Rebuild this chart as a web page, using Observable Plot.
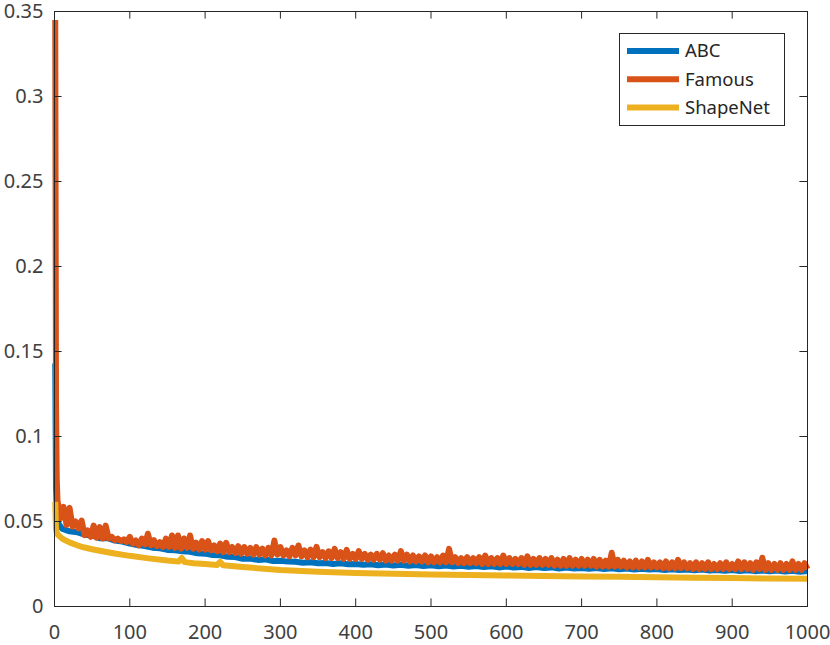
<!DOCTYPE html>
<html><head><meta charset="utf-8">
<script src="https://cdn.jsdelivr.net/npm/d3@7"></script>
<script src="https://cdn.jsdelivr.net/npm/@observablehq/plot@0.6"></script>
<style>body{margin:0;background:#fff}#chart{width:830px;height:645px}</style>
</head><body><div id="chart"></div>
<script>
const seriesNames = ["ABC", "Famous", "ShapeNet"];
const seriesColors = ["#0072BD", "#D95319", "#EDB120"];
const xTicks = [0, 100, 200, 300, 400, 500, 600, 700, 800, 900, 1000];
const yTicks = [0, 0.05, 0.1, 0.15, 0.2, 0.25, 0.3, 0.35];
const yTickLabels = ["0", "0.05", "0.1", "0.15", "0.2", "0.25", "0.3", "0.35"];

// ABC (blue)
const abcEarlyEpochs = [1, 2, 3, 5];
const abcEarlyLoss = [0.143, 0.07, 0.055, 0.049];
const abcLoss = [ // epochs 10..1000 step 10
  0.0458, 0.0442, 0.0437, 0.0422, 0.0418, 0.0402, 0.0403, 0.0388, 0.0382, 0.0370,
  0.0362, 0.0356, 0.0346, 0.0342, 0.0333, 0.0331, 0.0325, 0.0322, 0.0313, 0.0311,
  0.0303, 0.0301, 0.0293, 0.0291, 0.0281, 0.0282, 0.0274, 0.0277, 0.0268, 0.0269,
  0.0264, 0.0263, 0.0257, 0.0260, 0.0254, 0.0256, 0.0250, 0.0254, 0.0248, 0.0250,
  0.0245, 0.0249, 0.0243, 0.0247, 0.0241, 0.0246, 0.0240, 0.0244, 0.0238, 0.0242,
  0.0237, 0.0241, 0.0235, 0.0239, 0.0233, 0.0238, 0.0232, 0.0236, 0.0230, 0.0235,
  0.0229, 0.0233, 0.0227, 0.0232, 0.0226, 0.0230, 0.0224, 0.0229, 0.0223, 0.0227,
  0.0222, 0.0226, 0.0220, 0.0225, 0.0219, 0.0223, 0.0217, 0.0222, 0.0217, 0.0220,
  0.0215, 0.0219, 0.0214, 0.0218, 0.0213, 0.0217, 0.0211, 0.0215, 0.0210, 0.0214,
  0.0209, 0.0213, 0.0208, 0.0212, 0.0207, 0.0211, 0.0206, 0.0210, 0.0205, 0.0209
];

// Famous (orange)
const famousEarlyEpochs = [1, 2, 3];
const famousEarlyLoss = [0.345, 0.12, 0.075];
const famousLoss = [ // epochs 4..1000 step 4
  0.062, 0.052, 0.0586, 0.048, 0.058, 0.047, 0.050, 0.046, 0.0506, 0.042, 0.0447, 0.041, 0.0476, 0.0405, 0.0467, 0.040, 0.0476, 0.040, 0.041, 0.039, 0.040, 0.0385, 0.0395, 0.038, 0.041,
  0.037, 0.0388, 0.036, 0.040, 0.0365, 0.0428, 0.036, 0.039, 0.0355, 0.0379, 0.035, 0.040, 0.035, 0.0418, 0.0345, 0.0418, 0.034, 0.040, 0.0345, 0.0418, 0.034, 0.0375, 0.0335, 0.0385, 0.0335,
  0.0385, 0.033, 0.036, 0.0325, 0.037, 0.032, 0.0375, 0.032, 0.035, 0.0315, 0.0355, 0.031, 0.035, 0.031, 0.0345, 0.0305, 0.035, 0.0305, 0.034, 0.030, 0.0345, 0.030, 0.0388, 0.0305, 0.035,
  0.030, 0.033, 0.0295, 0.0345, 0.030, 0.0359, 0.0295, 0.033, 0.029, 0.0335, 0.029, 0.0351, 0.029, 0.032, 0.0285, 0.0325, 0.0285, 0.0339, 0.0285, 0.032, 0.028, 0.0333, 0.028, 0.031, 0.028,
  0.0326, 0.028, 0.031, 0.0275, 0.0305, 0.0275, 0.031, 0.0275, 0.0314, 0.027, 0.030, 0.027, 0.0305, 0.027, 0.0326, 0.027, 0.0305, 0.0265, 0.030, 0.0265, 0.0295, 0.0265, 0.030, 0.026, 0.0295,
  0.026, 0.029, 0.026, 0.030, 0.026, 0.0339, 0.026, 0.029, 0.0255, 0.0285, 0.0255, 0.029, 0.0255, 0.0285, 0.0255, 0.029, 0.025, 0.030, 0.025, 0.0285, 0.025, 0.0285, 0.025, 0.030, 0.025,
  0.0285, 0.025, 0.028, 0.025, 0.0285, 0.0245, 0.0295, 0.0245, 0.028, 0.0245, 0.0285, 0.0245, 0.028, 0.0245, 0.0285, 0.024, 0.0275, 0.024, 0.028, 0.024, 0.0285, 0.024, 0.0275, 0.024, 0.028,
  0.024, 0.0275, 0.024, 0.028, 0.0235, 0.0275, 0.0235, 0.027, 0.0235, 0.0316, 0.0235, 0.0275, 0.0235, 0.027, 0.023, 0.0265, 0.023, 0.027, 0.023, 0.0265, 0.023, 0.0275, 0.023, 0.026, 0.023,
  0.026, 0.0225, 0.0265, 0.0225, 0.026, 0.0225, 0.0275, 0.0225, 0.026, 0.0225, 0.0255, 0.022, 0.026, 0.022, 0.0255, 0.022, 0.026, 0.022, 0.025, 0.022, 0.0255, 0.022, 0.026, 0.022, 0.025,
  0.022, 0.0265, 0.022, 0.026, 0.022, 0.0255, 0.0215, 0.026, 0.022, 0.0287, 0.0215, 0.0255, 0.0215, 0.025, 0.0215, 0.0255, 0.0215, 0.025, 0.0215, 0.0265, 0.0215, 0.025, 0.0215, 0.0255, 0.022
];

// ShapeNet (yellow)
const shapeEpochs = [1, 2, 3, 5, 8, 10, 15, 20, 30, 40, 50, 60, 80, 100, 125, 150, 165, 169, 173, 185, 200, 216, 220, 224, 250, 300, 350, 400, 450, 500, 550, 600, 650, 700, 750, 800, 850, 900, 950, 1000];
const shapeLoss = [0.0615, 0.0455, 0.0435, 0.042, 0.0408, 0.040, 0.0388, 0.0377, 0.036, 0.0347, 0.0337, 0.0328, 0.0312, 0.0298, 0.0283, 0.0270, 0.0264, 0.0285, 0.0261, 0.0255, 0.0250, 0.0244, 0.0262, 0.0242, 0.0232, 0.0215, 0.0204, 0.0197, 0.0192, 0.0188, 0.0185, 0.0182, 0.0180, 0.0177, 0.0175, 0.0172, 0.0169, 0.0167, 0.0165, 0.0163];

const abcEpochs = abcEarlyEpochs.concat(d3.range(10, 1001, 10));
const abcAll = abcEarlyLoss.concat(abcLoss);
const famousEpochs = famousEarlyEpochs.concat(d3.range(4, 1001, 4));
const famousAll = famousEarlyLoss.concat(famousLoss);

const toRows = (ep, vals) => ep.map((e, i) => ({epoch: e, loss: vals[i]})).filter(d => d.loss != null);
const rows = [toRows(abcEpochs, abcAll), toRows(famousEpochs, famousAll), toRows(shapeEpochs, shapeLoss)];

const W = 830, H = 645, mL = 54, mR = 23, mT = 11, mB = 39;
const innerW = W - mL - mR, innerH = H - mT - mB;
const tickLen = 7.6;
const ink = "#262626";

const chart = Plot.plot({
  width: W, height: H,
  marginLeft: mL, marginRight: mR, marginTop: mT, marginBottom: mB,
  style: {fontFamily: "'Noto Sans', sans-serif", fontSize: "20px", color: ink, background: "#fff"},
  x: {domain: [0, 1000], label: null},
  y: {domain: [0, 0.35], label: null},
  marks: [
    ...rows.map((r, i) => Plot.line(r, {x: "epoch", y: "loss", stroke: seriesColors[i], strokeWidth: 6, strokeLinejoin: "round", strokeLinecap: "butt"})),
    Plot.tickX(xTicks, {x: d => d, insetTop: innerH - tickLen, stroke: ink}),
    Plot.tickX(xTicks, {x: d => d, insetBottom: innerH - tickLen, stroke: ink}),
    Plot.tickY(yTicks, {y: d => d, insetRight: innerW - tickLen, stroke: ink}),
    Plot.tickY(yTicks, {y: d => d, insetLeft: innerW - tickLen, stroke: ink}),
    Plot.frame({stroke: ink, strokeWidth: 1}),
    Plot.axisX(xTicks, {tickSize: 0, tickPadding: 18, tickFormat: d => String(d), fill: "#404040", label: null}),
    Plot.axisY(yTicks, {tickSize: 0, tickPadding: 11, tickFormat: (d, i) => yTickLabels[i], fill: "#404040", label: null})
  ]
});
document.getElementById("chart").appendChild(chart);

// Legend (MATLAB-style box, top right inside axes)
const svg = d3.select(chart);
const lg = svg.append("g").attr("text-anchor", "start");
lg.append("rect").attr("x", 619.5).attr("y", 33.5).attr("width", 165).attr("height", 92)
  .attr("fill", "#fff").attr("stroke", ink).attr("stroke-width", 1);
seriesNames.forEach((name, i) => {
  const y = 51 + 28.2 * i;
  lg.append("line").attr("x1", 627).attr("x2", 679).attr("y1", y).attr("y2", y)
    .attr("stroke", seriesColors[i]).attr("stroke-width", 6);
  lg.append("text").attr("x", 685).attr("y", y).attr("dy", "0.35em")
    .attr("text-anchor", "start").attr("font-size", 18.5).attr("fill", ink).text(name);
});
</script>
</body></html>
